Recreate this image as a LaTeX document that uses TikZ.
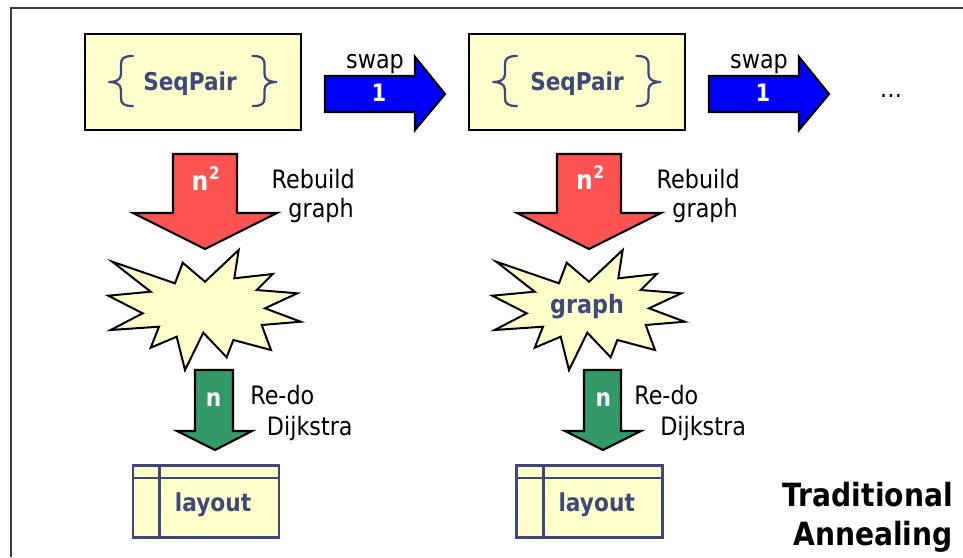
\documentclass[tikz,border=0pt]{standalone}
\usepackage{fontspec}
\setmainfont{DejaVu Sans}[FakeStretch=0.88]
\usetikzlibrary{calc}
\definecolor{boxyellow}{RGB}{255,255,204}
\definecolor{ink}{RGB}{62,72,122}
\definecolor{arrblue}{RGB}{0,0,255}
\definecolor{arrred}{RGB}{255,82,82}
\definecolor{arrgreen}{RGB}{51,153,102}
\definecolor{framegray}{RGB}{60,60,60}
\newcommand\pxsize[1]{\fontsize{#1}{#1}\selectfont}
\begin{document}
\begin{tikzpicture}[x=0.75pt,y=-0.75pt,
  frameline/.style={draw=framegray,line width=2pt},
  seqbox/.style={draw=black,fill=boxyellow,line width=1.6pt,inner sep=0pt,minimum width=162pt,minimum height=72pt},
  laybox/.style={draw=ink,fill=boxyellow,line width=2pt,inner sep=0pt,minimum width=109.5pt,minimum height=54pt},
  layline/.style={draw=ink,line width=2pt},
  bracepath/.style={draw=ink,line width=1.7pt,line cap=round},
  barrow/.style={draw=black,line width=1.6pt,line join=miter},
  burst/.style={draw=black,fill=boxyellow,line width=1.5pt,line join=miter},
  lbl/.style={inner sep=0pt,text=black,font=\pxsize{19}},
  boldink/.style={inner sep=0pt,text=ink,font=\pxsize{18.5}\bfseries},
  wnum/.style={inner sep=0pt,text=white,font=\pxsize{18}\bfseries},
  title/.style={inner sep=0pt,text=black,font=\pxsize{24}\bfseries}]
\useasboundingbox (0,0) rectangle (963,557);
% frame
\draw[frameline] (963,8) -- (11,8) -- (11,557);

% SeqPair boxes
\node[seqbox] (sp1) at (193,82) {};
\node[seqbox] (sp2) at (577,82) {};
\node[boldink,font=\pxsize{18.4}\bfseries,anchor=base] (sptxt1) at (190,90) {SeqPair};
\node[boldink,font=\pxsize{18.4}\bfseries,anchor=base] (sptxt2) at (577,90.5) {SeqPair};
\foreach \s in {0,384}{
\begin{scope}[shift={(\s,0)}]
\draw[bracepath] (133,56) .. controls (124,56) and (121,58) .. (121,65) -- (121,74)
  .. controls (121,80) and (116,82) .. (108.5,82)
  .. controls (116,82) and (121,84) .. (121,90) -- (121,98)
  .. controls (121,104) and (124,106) .. (133,106);
\draw[bracepath] (252.5,56) .. controls (261.5,56) and (264.5,58) .. (264.5,65) -- (264.5,74)
  .. controls (264.5,80) and (269.5,82) .. (277,82)
  .. controls (269.5,82) and (264.5,84) .. (264.5,90) -- (264.5,98)
  .. controls (264.5,104) and (261.5,106) .. (252.5,106);
\end{scope}}

% blue swap arrows
\draw[barrow,fill=arrblue] (325,76) -- (415,76) -- (415,57) -- (445,94) -- (415,130) -- (415,112) -- (325,112) -- cycle;
\draw[barrow,fill=arrblue] (709,76) -- (799,76) -- (799,57) -- (829,94) -- (799,130) -- (799,112) -- (709,112) -- cycle;
\node[lbl,anchor=base] (swap1) at (375,68.3) {swap};
\node[lbl,anchor=base] (swap2) at (759,68.3) {swap};
\node[wnum,anchor=base] (one1) at (379,101.7) {1};
\node[wnum,anchor=base] (one2) at (763,101.7) {1};
\node[lbl,anchor=base] (dots) at (891,97.5) {…};

% red rebuild arrows
\draw[barrow,fill=arrred] (173,154) -- (237,154) -- (237,213) -- (277,213) -- (205,249) -- (133,213) -- (173,213) -- cycle;
\draw[barrow,fill=arrred] (557,154) -- (621,154) -- (621,213) -- (661,213) -- (589,249) -- (517,213) -- (557,213) -- cycle;
\node[wnum,font=\pxsize{20}\bfseries,anchor=base] (nsq1) at (200,190) {n};
\node[wnum,font=\pxsize{13}\bfseries,anchor=base] (sup1) at (214.5,179) {2};
\node[wnum,font=\pxsize{20}\bfseries,anchor=base] (nsq2) at (584.5,189.5) {n};
\node[wnum,font=\pxsize{13}\bfseries,anchor=base] (sup2) at (599,178.5) {2};
\node[lbl,anchor=base east] (reb1) at (355,188.3) {Rebuild};
\node[lbl,anchor=base east] (gra1) at (354,217) {graph};
\node[lbl,anchor=base east] (reb2) at (740,188.3) {Rebuild};
\node[lbl,anchor=base east] (gra2) at (738,217) {graph};

% starbursts
\foreach \s in {0,384}{
\begin{scope}[shift={(\s,0)}]
\draw[burst] (112.3,261.7) -- (175,283.3) -- (182.7,262.7) -- (205,281.7) -- (238.7,250)
  -- (234.3,278.3) -- (272.7,274) -- (256.7,290) -- (297.3,293.3) -- (265,308.3)
  -- (300.7,321.7) -- (261.7,325) -- (271,350) -- (233.3,340) -- (226.7,357.3)
  -- (203.3,332.7) -- (185,370) -- (176.7,336.7) -- (150.7,347.7) -- (159,326.7)
  -- (110.7,330) -- (142.7,313.3) -- (108.3,295.7) -- (150.7,291.7) -- cycle;
\end{scope}}
\node[boldink,font=\pxsize{19}\bfseries,anchor=base] (graphtxt) at (587,313.3) {graph};

% green dijkstra arrows
\draw[barrow,fill=arrgreen] (195,370) -- (233,370) -- (233,431) -- (252,431) -- (215,450) -- (177,431) -- (195,431) -- cycle;
\draw[barrow,fill=arrgreen] (584,370) -- (621,370) -- (621,431) -- (641,431) -- (603,450) -- (565,431) -- (584,431) -- cycle;
\node[wnum,font=\pxsize{18.5}\bfseries,anchor=base] (n1) at (213.5,406) {n};
\node[wnum,font=\pxsize{18.5}\bfseries,anchor=base] (n2) at (603.3,406) {n};
\node[lbl,anchor=base west] (redo1) at (250,404) {Re-do};
\node[lbl,anchor=base west] (dij1) at (266.7,435) {Dijkstra};
\node[lbl,anchor=base west] (redo2) at (634,404) {Re-do};
\node[lbl,anchor=base west] (dij2) at (660,435) {Dijkstra};

% layout boxes
\node[laybox] (lay1) at (206,501.7) {};
\node[laybox] (lay2) at (589.7,501.8) {};
\foreach \b in {lay1,lay2}{
  \draw[layline] ($(\b.north west)+(28,0)$) -- ($(\b.south west)+(28,0)$);
  \draw[layline] ($(\b.north west)+(0,13.6)$) -- ($(\b.north east)+(0,13.6)$);
}
\node[boldink,anchor=base] (laytxt1) at (213,511.7) {layout};
\node[boldink,anchor=base] (laytxt2) at (596.7,511.7) {layout};

% title
\node[title,anchor=base east] (trad) at (953,506.7) {Traditional};
\node[title,anchor=base east] (ann) at (953,545) {Annealing};
\end{tikzpicture}
\end{document}
